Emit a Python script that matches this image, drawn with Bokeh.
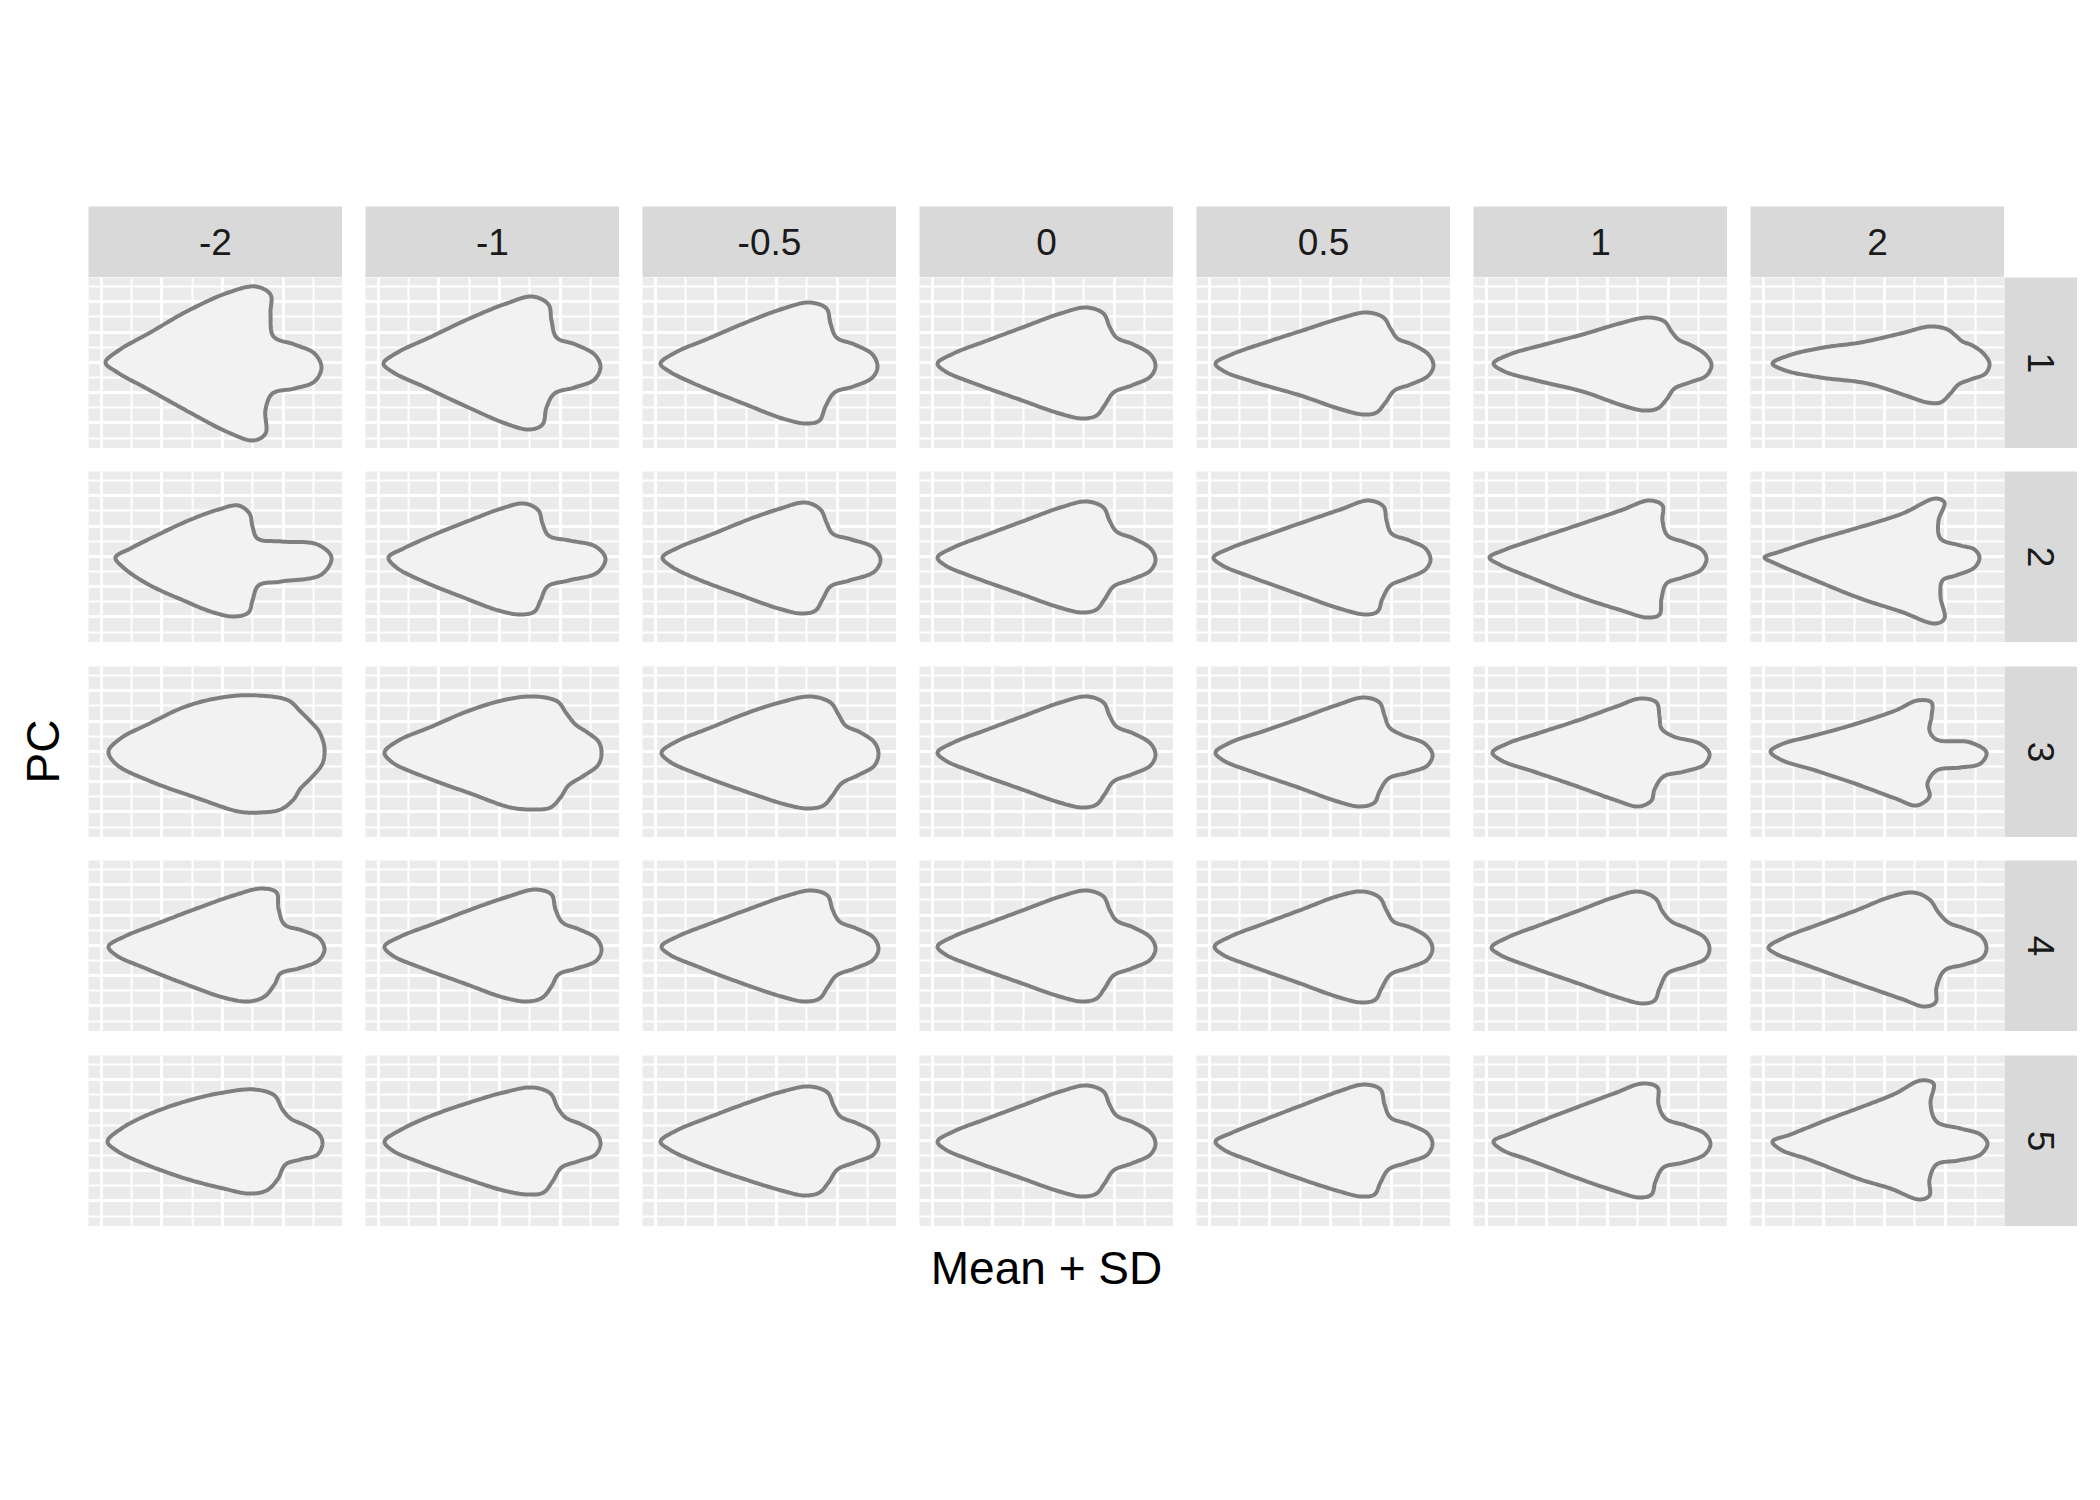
import numpy as np
from bokeh.plotting import figure
from bokeh.layouts import row, column, Spacer
from bokeh.models import Range1d, FixedTicker
from bokeh.core.properties import value
from bokeh.embed import file_html
from bokeh.resources import INLINE

SD_LEVELS = ["-2", "-1", "-0.5", "0", "0.5", "1", "2"]
PC_LABELS = ["1", "2", "3", "4", "5"]
X_LABEL = "Mean + SD"
Y_LABEL = "PC"

# Outline landmarks (panel units: x 0..254 left->right,
# y 0..171 top->down), 22 points per outline, one list per SD level.
PC1_X = [
    [17, 30, 60, 100, 140, 167, 182, 182, 185, 206, 226, 233, 226, 206, 184, 177, 177, 165, 140, 105, 60, 29],
    [18, 32, 64, 104, 141, 167, 183, 186, 191, 210, 229, 235, 229, 209, 189, 181, 177, 164, 140, 103, 58, 28],
    [18, 33, 66, 106, 141, 167, 184, 188, 194, 212, 230, 235, 230, 211, 192, 183, 177, 164, 140, 101, 56, 27],
    [18, 34, 68, 108, 141, 167, 184, 190, 197, 214, 231, 236, 231, 212, 194, 185, 177, 163, 140, 100, 55, 26],
    [19, 35, 69, 109, 143, 170, 187, 194, 201, 216, 232, 237, 232, 214, 198, 189, 180, 167, 145, 104, 59, 28],
    [20, 36, 71, 109, 146, 174, 191, 198, 205, 218, 232, 238, 233, 216, 201, 193, 184, 170, 149, 109, 63, 31],
    [22, 38, 73, 110, 150, 180, 197, 205, 212, 222, 233, 239, 235, 220, 208, 200, 190, 177, 158, 117, 70, 35],
]
PC1_Y = [
    [85, 73, 56, 33, 15, 9, 17, 36, 59, 67, 76, 90, 104, 111, 116, 132, 156, 163, 155, 137, 112, 95],
    [86, 75, 60, 41, 26, 19, 27, 43, 60, 67, 77, 89, 102, 110, 116, 130, 147, 152, 146, 130, 109, 95],
    [86, 75, 61, 44, 31, 25, 31, 46, 60, 67, 77, 89, 100, 109, 115, 129, 143, 146, 141, 126, 108, 94],
    [86, 76, 63, 48, 36, 30, 36, 49, 60, 67, 77, 88, 99, 108, 115, 128, 138, 141, 136, 122, 106, 94],
    [86, 77, 65, 52, 41, 35, 40, 51, 61, 67, 77, 88, 98, 107, 113, 125, 135, 137, 132, 118, 105, 94],
    [86, 77, 67, 57, 46, 40, 44, 54, 62, 68, 77, 87, 98, 105, 111, 122, 131, 133, 128, 114, 103, 94],
    [86, 78, 70, 65, 56, 49, 52, 58, 64, 68, 76, 86, 96, 102, 107, 116, 125, 125, 119, 106, 100, 93],
]

PC2_X = [
    [27, 42, 70, 100, 130, 150, 161, 164, 169, 193, 229, 243, 233, 193, 170, 164, 160, 146, 125, 95, 60, 36],
    [23, 38, 69, 104, 136, 159, 173, 177, 183, 204, 230, 240, 232, 203, 182, 175, 169, 155, 133, 98, 58, 31],
    [20, 36, 69, 106, 138, 163, 178, 184, 190, 209, 231, 238, 232, 207, 188, 180, 173, 159, 136, 99, 56, 29],
    [18, 34, 68, 108, 141, 167, 184, 190, 197, 214, 231, 236, 231, 212, 194, 185, 177, 163, 140, 100, 55, 26],
    [17, 33, 66, 106, 144, 172, 187, 190, 195, 213, 229, 234, 229, 210, 194, 186, 181, 169, 143, 103, 56, 26],
    [16, 32, 64, 103, 147, 176, 189, 189, 194, 212, 228, 233, 228, 209, 193, 188, 186, 174, 145, 105, 57, 26],
    [14, 30, 60, 98, 152, 185, 194, 188, 190, 210, 224, 229, 224, 205, 192, 190, 194, 185, 150, 110, 58, 25],
]
PC2_Y = [
    [86, 77, 63, 49, 38, 34, 42, 55, 67, 70, 73, 86, 103, 110, 114, 129, 141, 145, 141, 129, 113, 97],
    [86, 77, 63, 49, 37, 32, 39, 52, 64, 69, 75, 87, 101, 109, 115, 129, 140, 143, 139, 126, 110, 96],
    [86, 76, 63, 48, 37, 31, 38, 51, 62, 68, 76, 88, 100, 109, 115, 128, 139, 142, 137, 124, 108, 95],
    [86, 76, 63, 48, 36, 30, 36, 49, 60, 67, 77, 88, 99, 108, 115, 128, 138, 141, 136, 122, 106, 94],
    [86, 77, 65, 51, 38, 29, 35, 49, 62, 69, 77, 88, 98, 107, 114, 127, 140, 143, 137, 123, 106, 94],
    [86, 78, 67, 54, 39, 29, 34, 49, 64, 71, 78, 87, 98, 106, 112, 127, 143, 146, 138, 125, 106, 93],
    [86, 80, 70, 59, 42, 27, 31, 49, 67, 74, 78, 86, 96, 104, 109, 125, 147, 152, 140, 127, 106, 92],
]

PC3_X = [
    [20, 32, 59, 100, 140, 170, 200, 212, 222, 230, 234, 236, 234, 222, 212, 205, 192, 172, 150, 110, 60, 28],
    [19, 33, 64, 104, 141, 169, 192, 201, 210, 222, 233, 236, 233, 217, 203, 195, 185, 168, 145, 105, 58, 27],
    [19, 34, 66, 106, 141, 168, 188, 196, 203, 218, 232, 236, 232, 215, 199, 190, 181, 165, 143, 103, 56, 27],
    [18, 34, 68, 108, 141, 167, 184, 190, 197, 214, 231, 236, 231, 212, 194, 185, 177, 163, 140, 100, 55, 26],
    [19, 34, 66, 106, 142, 167, 183, 188, 193, 207, 228, 236, 231, 212, 192, 183, 178, 164, 141, 102, 58, 27],
    [19, 34, 64, 104, 143, 167, 183, 186, 188, 200, 226, 236, 231, 211, 190, 181, 178, 165, 143, 104, 60, 28],
    [20, 33, 60, 100, 145, 167, 181, 181, 179, 186, 220, 236, 230, 210, 186, 177, 179, 166, 145, 107, 65, 30],
]
PC3_Y = [
    [85, 72, 58, 39, 30, 29, 34, 45, 55, 64, 73, 82, 97, 112, 122, 133, 143, 146, 145, 132, 114, 98],
    [86, 74, 61, 44, 33, 30, 35, 47, 58, 66, 75, 85, 98, 110, 119, 131, 141, 143, 141, 127, 110, 96],
    [86, 75, 62, 46, 35, 30, 36, 48, 59, 66, 76, 87, 99, 109, 117, 129, 139, 142, 138, 125, 108, 95],
    [86, 76, 63, 48, 36, 30, 36, 49, 60, 67, 77, 88, 99, 108, 115, 128, 138, 141, 136, 122, 106, 94],
    [86, 76, 65, 51, 38, 31, 36, 49, 61, 69, 77, 88, 99, 106, 112, 125, 136, 140, 135, 121, 106, 94],
    [86, 77, 67, 54, 40, 32, 36, 50, 62, 70, 77, 87, 98, 105, 110, 123, 134, 140, 134, 120, 105, 94],
    [85, 77, 70, 59, 44, 34, 36, 50, 64, 73, 76, 86, 97, 101, 104, 117, 130, 139, 132, 118, 104, 93],
]

PC4_X = [
    [20, 36, 69, 108, 145, 173, 188, 190, 196, 214, 231, 236, 230, 210, 192, 186, 176, 160, 135, 98, 55, 28],
    [19, 35, 69, 108, 143, 170, 186, 190, 197, 214, 231, 236, 231, 211, 193, 186, 177, 162, 138, 99, 55, 27],
    [19, 35, 68, 108, 142, 169, 185, 190, 197, 214, 231, 236, 231, 212, 194, 185, 177, 162, 139, 100, 55, 27],
    [18, 34, 68, 108, 141, 167, 184, 190, 197, 214, 231, 236, 231, 212, 194, 185, 177, 163, 140, 100, 55, 26],
    [18, 34, 68, 108, 140, 166, 183, 190, 197, 214, 231, 236, 231, 213, 194, 185, 179, 166, 143, 101, 56, 26],
    [18, 34, 68, 108, 140, 165, 182, 189, 198, 214, 231, 236, 232, 213, 194, 186, 181, 169, 145, 102, 56, 26],
    [18, 34, 68, 108, 138, 163, 179, 188, 198, 214, 231, 236, 232, 214, 194, 186, 185, 174, 150, 104, 57, 25],
]
PC4_Y = [
    [86, 76, 63, 48, 35, 28, 32, 48, 64, 70, 78, 89, 100, 108, 113, 124, 136, 141, 137, 124, 107, 95],
    [86, 76, 63, 48, 36, 29, 34, 49, 62, 69, 78, 89, 100, 108, 114, 126, 137, 141, 137, 123, 107, 95],
    [86, 76, 63, 48, 36, 30, 35, 49, 61, 68, 77, 88, 99, 108, 115, 127, 138, 141, 136, 123, 106, 94],
    [86, 76, 63, 48, 36, 30, 36, 49, 60, 67, 77, 88, 99, 108, 115, 128, 138, 141, 136, 122, 106, 94],
    [86, 76, 63, 48, 36, 31, 37, 50, 61, 67, 77, 88, 99, 107, 114, 128, 139, 142, 137, 122, 106, 94],
    [87, 77, 64, 49, 37, 31, 38, 51, 61, 68, 77, 88, 98, 106, 113, 128, 140, 143, 137, 122, 106, 94],
    [87, 77, 64, 49, 37, 32, 39, 52, 62, 68, 76, 87, 97, 104, 110, 127, 142, 146, 138, 122, 105, 93],
]

PC5_X = [
    [19, 33, 60, 100, 135, 166, 186, 194, 202, 217, 230, 234, 229, 212, 197, 189, 178, 160, 135, 100, 55, 28],
    [19, 34, 64, 104, 138, 167, 185, 192, 200, 216, 231, 235, 230, 212, 196, 187, 178, 162, 138, 100, 55, 27],
    [18, 34, 66, 106, 140, 167, 185, 191, 198, 215, 231, 236, 231, 212, 195, 186, 177, 162, 139, 100, 55, 27],
    [18, 34, 68, 108, 141, 167, 184, 190, 197, 214, 231, 236, 231, 212, 194, 185, 177, 163, 140, 100, 55, 26],
    [19, 36, 71, 110, 142, 168, 184, 188, 194, 213, 231, 236, 231, 211, 192, 184, 178, 165, 140, 103, 56, 27],
    [20, 37, 74, 111, 143, 169, 184, 185, 192, 212, 231, 237, 231, 210, 190, 182, 178, 166, 140, 105, 57, 28],
    [22, 40, 80, 115, 145, 170, 183, 180, 186, 210, 230, 237, 230, 208, 186, 179, 179, 169, 140, 110, 58, 30],
]
PC5_Y = [
    [86, 73, 59, 45, 37, 34, 40, 54, 63, 70, 78, 87, 99, 104, 109, 124, 135, 138, 133, 124, 108, 95],
    [86, 75, 61, 47, 37, 32, 38, 52, 62, 69, 78, 88, 99, 106, 112, 126, 137, 139, 135, 123, 107, 95],
    [86, 75, 62, 47, 36, 31, 37, 50, 61, 68, 77, 88, 99, 107, 114, 127, 137, 140, 135, 123, 107, 94],
    [86, 76, 63, 48, 36, 30, 36, 49, 60, 67, 77, 88, 99, 108, 115, 128, 138, 141, 136, 122, 106, 94],
    [86, 77, 63, 48, 36, 29, 34, 49, 62, 69, 78, 88, 99, 107, 114, 127, 139, 141, 135, 123, 106, 94],
    [86, 78, 63, 49, 37, 28, 32, 49, 63, 70, 78, 88, 99, 107, 112, 126, 139, 142, 135, 123, 105, 94],
    [86, 79, 63, 50, 38, 25, 28, 48, 66, 73, 79, 88, 99, 105, 109, 124, 140, 144, 133, 124, 104, 94],
]

OUTLINES_X = {"1": PC1_X, "2": PC2_X, "3": PC3_X, "4": PC4_X, "5": PC5_X}
OUTLINES_Y = {"1": PC1_Y, "2": PC2_Y, "3": PC3_Y, "4": PC4_Y, "5": PC5_Y}

GRID_X_MAJOR = [12.7, 73.3, 133.9, 194.5]
GRID_X_MINOR = [43.0, 103.6, 164.2, 224.8]
GRID_Y_MAJOR = [24.2, 54.5, 84.8, 115.1, 145.4]
GRID_Y_MINOR = [9.0, 39.3, 69.6, 99.9, 130.2, 160.5]

FONT = "Liberation Sans"
PANEL_W, PANEL_H = 254, 171
GAP_X = 23
GAPS_Y = [23, 24, 23, 24]
LEFT_W = 88
TOP_PAD = 206
STRIP_H = 71
STRIP_W = 73


def smooth_closed(xs, ys, n=14):
    """Centripetal Catmull-Rom rendering of a closed outline through its landmarks."""
    P = np.column_stack([xs, ys]).astype(float)
    N = len(P)
    out = []

    def tj(ti, a, b):
        return ti + max(np.hypot(*(b - a)), 1e-6) ** 0.5

    for i in range(N):
        p0, p1, p2, p3 = P[(i - 1) % N], P[i], P[(i + 1) % N], P[(i + 2) % N]
        t0 = 0.0
        t1 = tj(t0, p0, p1)
        t2 = tj(t1, p1, p2)
        t3 = tj(t2, p2, p3)
        ts = np.linspace(t1, t2, n, endpoint=False)[:, None]
        A1 = (t1 - ts) / (t1 - t0) * p0 + (ts - t0) / (t1 - t0) * p1
        A2 = (t2 - ts) / (t2 - t1) * p1 + (ts - t1) / (t2 - t1) * p2
        A3 = (t3 - ts) / (t3 - t2) * p2 + (ts - t2) / (t3 - t2) * p3
        B1 = (t2 - ts) / (t2 - t0) * A1 + (ts - t0) / (t2 - t0) * A2
        B2 = (t3 - ts) / (t3 - t1) * A2 + (ts - t1) / (t3 - t1) * A3
        out.append((t2 - ts) / (t2 - t1) * B1 + (ts - t1) / (t2 - t1) * B2)
    out = np.vstack(out)
    return list(out[:, 0]), list(out[:, 1])


def base_fig(w, h, xr, yr, bg):
    p = figure(width=w, height=h, x_range=xr, y_range=yr, output_backend="svg",
               toolbar_location=None, x_axis_location=None, y_axis_location=None,
               min_border=0, background_fill_color=bg, outline_line_color=None,
               border_fill_color=bg)
    p.xgrid.grid_line_color = None
    p.ygrid.grid_line_color = None
    return p


def panel(xs, ys):
    p = base_fig(PANEL_W, PANEL_H, Range1d(0, PANEL_W), Range1d(PANEL_H, 0), "#EBEBEB")
    p.xgrid.ticker = FixedTicker(ticks=GRID_X_MAJOR, minor_ticks=GRID_X_MINOR)
    p.ygrid.ticker = FixedTicker(ticks=GRID_Y_MAJOR, minor_ticks=GRID_Y_MINOR)
    for g in (p.xgrid, p.ygrid):
        g.grid_line_color = "white"
        g.grid_line_width = 3
        g.minor_grid_line_color = "white"
        g.minor_grid_line_width = 2
    sx, sy = smooth_closed(xs, ys)
    p.patch(sx, sy, fill_color="#F2F2F2", line_color="#7F7F7F", line_width=4,
            line_join="round")
    return p


def top_strip(label):
    p = base_fig(PANEL_W, STRIP_H, Range1d(0, 1), Range1d(0, 1), "#D9D9D9")
    p.text(x=[0.5], y=[0.5], text=[label], text_align="center", text_baseline="middle",
           text_font=value(FONT), text_font_size="37px", text_color="#1A1A1A")
    return p


def right_strip(label):
    p = base_fig(STRIP_W, PANEL_H, Range1d(0, 1), Range1d(0, 1), "#D9D9D9")
    p.text(x=[0.5], y=[0.5], text=[label], text_align="center", text_baseline="middle",
           angle=-np.pi / 2, text_font=value(FONT), text_font_size="37px", text_color="#1A1A1A")
    return p


top_items = []
for i, sd in enumerate(SD_LEVELS):
    if i > 0:
        top_items.append(Spacer(width=GAP_X, height=STRIP_H))
    top_items.append(top_strip(sd))
rows = [Spacer(width=10, height=TOP_PAD), row(top_items, spacing=0)]

for r, pc in enumerate(PC_LABELS):
    if r > 0:
        rows.append(Spacer(width=10, height=GAPS_Y[r - 1]))
    items = []
    for i, sd in enumerate(SD_LEVELS):
        if i > 0:
            items.append(Spacer(width=GAP_X, height=PANEL_H))
        items.append(panel(OUTLINES_X[pc][i], OUTLINES_Y[pc][i]))
    items.append(right_strip(pc))
    rows.append(row(items, spacing=0))

grid_w = 7 * PANEL_W + 6 * GAP_X
xl = base_fig(grid_w, 120, Range1d(0, grid_w), Range1d(120, 0), "white")
xl.text(x=[grid_w / 2], y=[41], text=[X_LABEL], text_align="center", text_baseline="alphabetic",
        text_font=value(FONT), text_font_size="46px", text_color="black")
rows.append(xl)

main = column(rows, spacing=0)

yl = base_fig(LEFT_W, 1300, Range1d(0, LEFT_W), Range1d(1300, 0), "white")
yl.text(x=[42], y=[751], text=[Y_LABEL], text_align="center", text_baseline="middle",
        angle=np.pi / 2, text_font=value(FONT), text_font_size="46px", text_color="black")

layout = row([yl, main], spacing=0)

open("out.html", "w").write(file_html(layout, INLINE))
